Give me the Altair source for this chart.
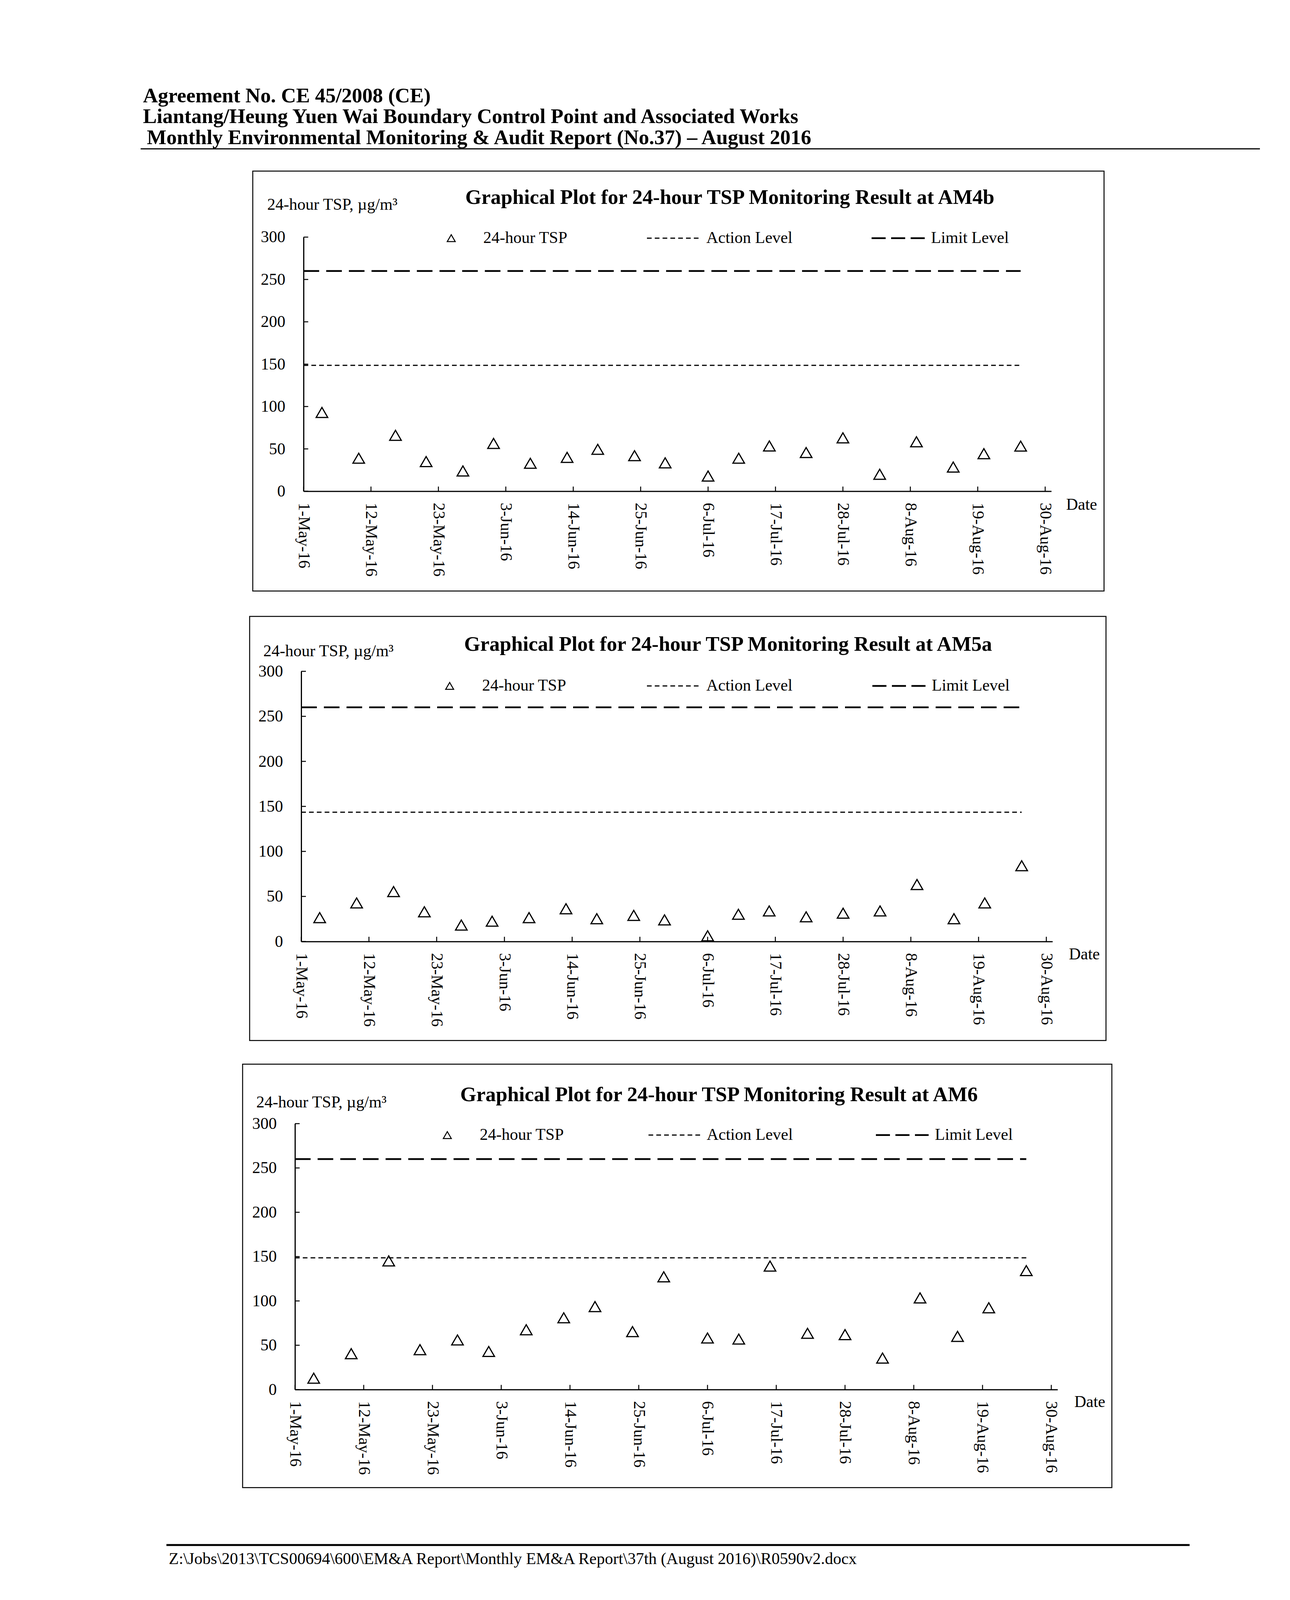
import altair as alt
import pandas as pd

# ---------------- data ----------------
sample_dates = ["2016/05/04", "2016/05/10", "2016/05/16", "2016/05/21", "2016/05/27",
                "2016/06/01", "2016/06/07", "2016/06/13", "2016/06/18", "2016/06/24",
                "2016/06/29", "2016/07/06", "2016/07/11", "2016/07/16", "2016/07/22",
                "2016/07/28", "2016/08/03", "2016/08/09", "2016/08/15", "2016/08/20",
                "2016/08/26"]
tsp_am4b = [93, 39, 66, 35, 24, 56.5, 33, 40, 49.5, 42, 33.5, 18, 39, 53.5, 45.7,
            63, 20, 58.4, 28.6, 44.4, 53.3]
tsp_am5a = [26.5, 42.8, 55.4, 33, 18.2, 22.5, 26.5, 36.3, 25.3, 29, 24, 6.3, 30.2,
            33.9, 27.4, 31.4, 33.9, 63.2, 25.3, 42.8, 84.1]
tsp_am6 = [12.9, 40.5, 145.2, 45, 56, 43, 67.5, 81, 93.6, 65.4, 127.2, 58.2, 57,
           139.3, 63.5, 62, 35.6, 103.4, 60, 92.3, 134.2]
stations = ["AM4b", "AM5a", "AM6"]
action_levels = [148.6, 143.5, 148.6]
limit_levels = [260, 260, 260]
level_line_dates = ["2016/05/01", "2016/08/26"]
x_domain_dates = ["2016/05/01", "2016/08/31"]
x_tick_dates = ["2016/05/01", "2016/05/12", "2016/05/23", "2016/06/03", "2016/06/14",
                "2016/06/25", "2016/07/06", "2016/07/17", "2016/07/28", "2016/08/08",
                "2016/08/19", "2016/08/30"]
y_domain = [0, 300]
y_tick_values = [0, 50, 100, 150, 200, 250, 300]

chart_title_prefix = "Graphical Plot for 24-hour TSP Monitoring Result at "
y_axis_title = "24-hour TSP, \u00b5g/m\u00b3"
x_axis_title = "Date"
legend_labels = ["24-hour TSP", "Action Level", "Limit Level"]
header_lines = ["Agreement No. CE 45/2008 (CE)",
                "Liantang/Heung Yuen Wai Boundary Control Point and Associated Works",
                "Monthly Environmental Monitoring & Audit Report (No.37) \u2013 August 2016"]
footer_text = r"Z:\Jobs\2013\TCS00694\600\EM&A Report\Monthly EM&A Report\37th (August 2016)\R0590v2.docx"

# ---------------- layout (reference page pixels) ----------------
FONT = "Liberation Serif"
YF = 0.89                          # vertical fit so the whole sheet lands in the photo
PAGE = (8, 8, 3250, 4600)          # area covered by the white sheet

geom = [
    dict(frame=(647, 490, 2826, 1698), x0=777, x1=2691, y0=1411, y1=680,
         title=(1191, 585), ytitle=(684, 601), date=(2729, 1464),
         leg_y=683, leg_base=697, tri=1155, txt1=1237, act=(1656, 1795), txt2=1808,
         lim=(2231, 2367), txt3=2383),
    dict(frame=(639, 1771, 2831, 2991), x0=771, x1=2694, y0=2706, y1=1929,
         title=(1188, 1870), ytitle=(674, 1886), date=(2736, 2757),
         leg_y=1971, leg_base=1985, tri=1151, txt1=1234, act=(1656, 1790), txt2=1808,
         lim=(2233, 2370), txt3=2385),
    dict(frame=(621, 3059, 2846, 4277), x0=755, x1=2707, y0=3995, y1=3230,
         title=(1178, 3165), ytitle=(656, 3183), date=(2750, 4045),
         leg_y=3263, leg_base=3277, tri=1145, txt1=1228, act=(1660, 1794), txt2=1809,
         lim=(2242, 2377), txt3=2393),
]


def FY(v):
    return v * YF


# the view (plot rectangle) is the data area of the first panel
OX, OY = geom[0]["x0"], FY(geom[0]["y1"])
VW = geom[0]["x1"] - geom[0]["x0"]
VH = FY(geom[0]["y0"]) - OY


def VX(v):
    return v - OX


def VY(v):
    return FY(v) - OY


def one(text=""):
    return pd.DataFrame({"t": [text]})


def txt(s, x, y, size=42, bold=False):
    return alt.Chart(one(s)).mark_text(
        align="left", baseline="alphabetic", font=FONT, fontSize=size,
        fontWeight="bold" if bold else "normal", color="black"
    ).encode(text="t:N", x=alt.value(VX(x)), y=alt.value(VY(y)))


def hline(x0, x1, y, width, dash=None):
    kw = dict(color="black", strokeWidth=width)
    if dash:
        kw["strokeDash"] = dash
    return alt.Chart(one()).mark_rule(**kw).encode(
        x=alt.value(VX(x0)), x2=alt.value(VX(x1)), y=alt.value(VY(y)))


def dt(s):
    y, m, d = (int(v) for v in s.split("/"))
    return alt.DateTime(year=y, month=m, date=d)


def decorations(i):
    g = geom[i]
    fx0, fy0, fx1, fy1 = g["frame"]
    return [
        alt.Chart(one()).mark_rect(fillOpacity=0, stroke="black", strokeWidth=2.5).encode(
            x=alt.value(VX(fx0)), x2=alt.value(VX(fx1)),
            y=alt.value(VY(fy0)), y2=alt.value(VY(fy1))),
        txt(chart_title_prefix + stations[i], g["title"][0], g["title"][1], size=53, bold=True),
        txt(y_axis_title, g["ytitle"][0], g["ytitle"][1]),
        txt(x_axis_title, g["date"][0], g["date"][1]),
        alt.Chart(one()).mark_point(shape="triangle-up", filled=False, size=420, color="black",
                                    strokeWidth=2.5, opacity=1).encode(
            x=alt.value(VX(g["tri"])), y=alt.value(VY(g["leg_y"]))),
        txt(legend_labels[0], g["txt1"], g["leg_base"]),
        hline(g["act"][0], g["act"][1], g["leg_y"], 3, [12, 8]),
        txt(legend_labels[1], g["txt2"], g["leg_base"]),
        hline(g["lim"][0], g["lim"][1], g["leg_y"], 4.5, [36, 14]),
        txt(legend_labels[2], g["txt3"], g["leg_base"]),
    ]


def panel_layers(i, values):
    """Flat list of layers; every layer carries the same explicit domain and range,
    so independent scales still map identically inside one panel."""
    g = geom[i]

    def xs():
        return alt.Scale(domain=[dt(x_domain_dates[0]), dt(x_domain_dates[1])],
                         range=[VX(g["x0"]), VX(g["x1"])])

    def ys():
        return alt.Scale(domain=y_domain, range=[VY(g["y0"]), VY(g["y1"])],
                         nice=False, zero=False)

    x_off = VY(g["y0"]) - VH        # >= 0: distance below the view's bottom edge
    y_off = OX - g["x0"]            # >= 0: distance left of the view's left edge
    xkw = dict(orient="bottom", values=[dt(d) for d in x_tick_dates], format="%-d-%b-%y",
               labelAngle=90, labelPadding=29, tickSize=0, labelLimit=0,
               domainWidth=3, domainColor="black", grid=False, zindex=2,
               labelFont=FONT, labelFontSize=42, labelColor="black")
    ykw = dict(orient="left", values=y_tick_values, labelPadding=47, tickSize=0, labelLimit=0,
               domainWidth=3, domainColor="black", grid=False, zindex=2,
               labelFont=FONT, labelFontSize=42, labelColor="black")
    if x_off > 0:
        xkw["offset"] = x_off
    if y_off > 0:
        ykw["offset"] = y_off

    pts_df = pd.DataFrame({"date": sample_dates, "tsp": values})
    points = alt.Chart(pts_df).mark_point(
        shape="triangle-up", filled=False, size=880, color="black", strokeWidth=3, opacity=1
    ).encode(
        x=alt.X("date:T", scale=xs(), axis=alt.Axis(**xkw), title=None),
        y=alt.Y("tsp:Q", scale=ys(), axis=alt.Axis(**ykw), title=None),
    )
    lv = pd.DataFrame({"start": [level_line_dates[0]], "end": [level_line_dates[1]],
                       "action": [action_levels[i]], "limit": [limit_levels[i]]})
    action = alt.Chart(lv).mark_rule(color="black", strokeWidth=3, strokeDash=[12, 8]).encode(
        x=alt.X("start:T", scale=xs(), axis=None), x2="end:T",
        y=alt.Y("action:Q", scale=ys(), axis=None))
    limit = alt.Chart(lv).mark_rule(color="black", strokeWidth=4.5, strokeDash=[40, 18]).encode(
        x=alt.X("start:T", scale=xs(), axis=None), x2="end:T",
        y=alt.Y("limit:Q", scale=ys(), axis=None))
    xt = alt.Chart(pd.DataFrame({"d": x_tick_dates})).mark_rule(color="black", strokeWidth=2.5).encode(
        x=alt.X("d:T", scale=xs(), axis=None),
        y=alt.value(VY(g["y0"])), y2=alt.value(VY(g["y0"]) - 12))
    yt = alt.Chart(pd.DataFrame({"v": y_tick_values})).mark_rule(color="black", strokeWidth=2.5).encode(
        y=alt.Y("v:Q", scale=ys(), axis=None),
        x=alt.value(VX(g["x0"])), x2=alt.value(VX(g["x0"]) + 12))
    return [action, limit, xt, yt, points]


sheet = alt.Chart(one()).mark_rect(fill="white", strokeWidth=0).encode(
    x=alt.value(VX(PAGE[0])), x2=alt.value(VX(PAGE[2])),
    y=alt.value(VY(PAGE[1])), y2=alt.value(VY(PAGE[3])))

page = [
    sheet,
    txt(header_lines[0], 366, 292, size=53, bold=True),
    txt(header_lines[1], 366, 352, size=53, bold=True),
    txt(header_lines[2], 376, 413, size=53, bold=True),
    hline(360, 3225, 426, 3),
    hline(426, 3045, 4442, 5),
    txt(footer_text, 432, 4497, size=42),
]

deco = []
for k in range(3):
    deco += decorations(k)

series = [tsp_am4b, tsp_am5a, tsp_am6]
data_layers = []
for k in range(3):
    data_layers += panel_layers(k, series[k])

chart = alt.layer(*page, *deco, *data_layers).resolve_scale(
    x="independent", y="independent"
).properties(
    width=VW, height=VH, padding=0, background="white",
).configure_view(strokeWidth=0)

chart.save("out.html", embed_options={"renderer": "svg", "actions": False})
